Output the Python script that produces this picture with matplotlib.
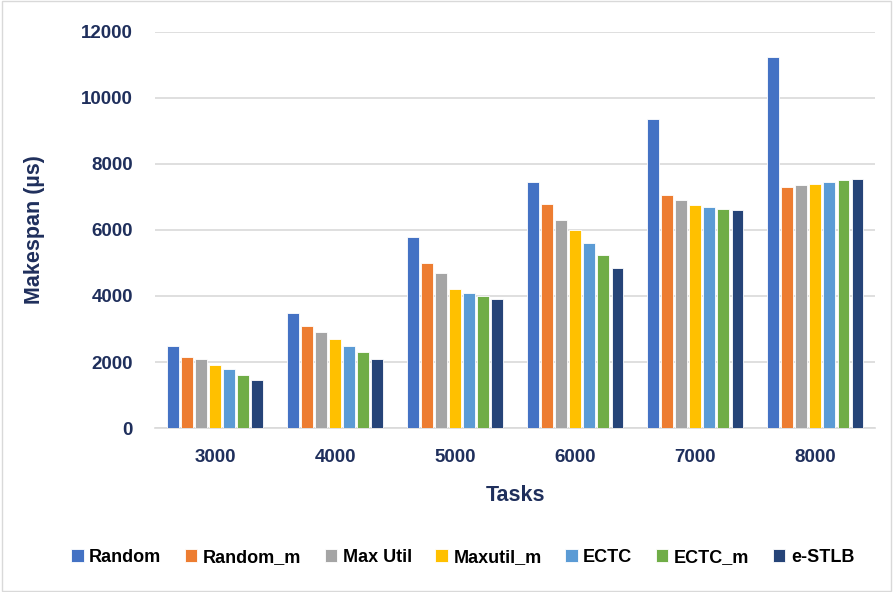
import matplotlib
matplotlib.use('Agg')

import numpy as np
import matplotlib.pyplot as plt

tasks = ['3000', '4000', '5000', '6000', '7000', '8000']
methods = ['Random', 'Random_m', 'Max Util', 'Maxutil_m', 'ECTC', 'ECTC_m', 'e-STLB']

random_ = [2500, 3500, 5800, 7450, 9350, 11250]
random_m = [2150, 3100, 5000, 6800, 7050, 7300]
max_util = [2100, 2900, 4700, 6300, 6900, 7350]
maxutil_m = [1900, 2700, 4200, 6000, 6750, 7400]
ectc = [1800, 2500, 4100, 5600, 6700, 7450]
ectc_m = [1600, 2300, 4000, 5250, 6650, 7500]
e_stlb = [1450, 2100, 3900, 4850, 6600, 7540]

series = [random_, random_m, max_util, maxutil_m, ectc, ectc_m, e_stlb]
colors = ['#4472C4', '#ED7D31', '#A5A5A5', '#FFC000', '#5B9BD5', '#70AD47', '#264478']

plt.rcParams['font.family'] = ['Liberation Sans', 'DejaVu Sans']
navy = '#1F2F5C'

fig = plt.figure(figsize=(8.93, 5.92), dpi=100)
ax = fig.add_axes([0.1736, 0.277, 0.8064, 0.669])

x = np.arange(len(tasks))
pitch = 0.117
width = 0.095
for i, (vals, c, name) in enumerate(zip(series, colors, methods)):
    off = (i - 3) * pitch
    ax.bar(x + off, vals, width, color=c, label=name, edgecolor='white', linewidth=0.6, zorder=3)

ax.set_xlim(-0.5, 5.5)
ax.set_ylim(0, 12000)
ax.set_yticks(np.arange(0, 12001, 2000))
ax.set_xticks(x)
ax.set_xticklabels(tasks)
ax.yaxis.grid(True, color='#D9D9D9', linewidth=1.2, zorder=0)
ax.tick_params(axis='y', length=0, labelsize=13.5, labelcolor=navy, pad=16)
ax.tick_params(axis='x', length=0, labelsize=13.5, labelcolor=navy, pad=15)
for lab in ax.get_xticklabels() + ax.get_yticklabels():
    lab.set_fontweight('bold')
for s in ['top', 'right', 'left']:
    ax.spines[s].set_visible(False)
ax.spines['bottom'].set_color('#D9D9D9')
ax.spines['bottom'].set_linewidth(1.2)

ax.set_ylabel('Makespan (µs)', fontsize=15.5, fontweight='bold', color=navy, labelpad=26)
ax.set_xlabel('Tasks', fontsize=15.5, fontweight='bold', color=navy, labelpad=14)

leg = fig.legend(loc='center', bbox_to_anchor=(0.518, 0.059), ncol=7, frameon=False,
                 fontsize=13, handlelength=0.7, handleheight=0.7, handletextpad=0.3,
                 columnspacing=1.3)
for t in leg.get_texts():
    t.set_fontweight('bold')

fig.patches.append(plt.Rectangle((0.002, 0.002), 0.996, 0.996, transform=fig.transFigure,
                                 fill=False, edgecolor='#D9D9D9', linewidth=1))

fig.savefig('out.png', dpi=100)
